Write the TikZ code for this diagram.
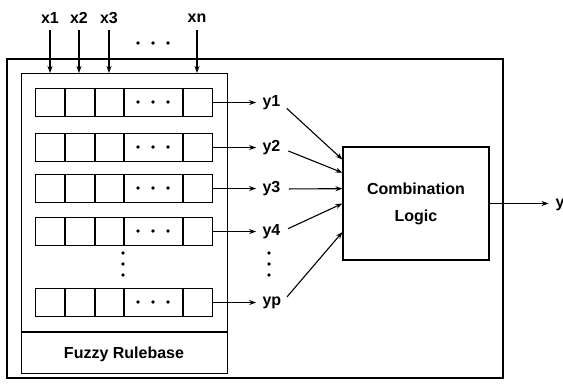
\documentclass[tikz,border=0pt]{standalone}
\usepackage{fontspec}
\setmainfont{Liberation Sans}
\usetikzlibrary{arrows.meta,calc}
\begin{document}
\begin{tikzpicture}[x=1pt,y=-1pt,line width=1.1pt,
  lbl/.style={font=\fontsize{16}{27}\selectfont\bfseries,inner sep=0pt},
  arr/.style={-{Stealth[length=7pt,width=5pt]}},
  rowbox/.style={draw,rectangle,minimum width=177pt,minimum height=28pt,inner sep=0pt,anchor=north west},
  dotmark/.style={fill,circle,inner sep=0pt,minimum size=3.8pt}]
\useasboundingbox (0,0) rectangle (563,388);

% outer frame and rulebase frame
\draw (7,59) rectangle (503,378);
\node[draw,rectangle,inner sep=0pt,minimum width=206pt,minimum height=300pt,anchor=north west] (rb) at (21,73) {};
\draw (rb.west |- 0,332) -- (rb.east |- 0,332);
\node[lbl] (rbl) at (124,354) {Fuzzy Rulebase};

% inputs
\foreach \n/\x/\t in {x1/50/x1, x2/79/x2, x3/109/x3, xn/197/xn}{
  \node[lbl] (\n) at (\x,18) {\t};
  \coordinate (\n top) at (\x,30);
  \coordinate (\n in) at (\x,73);
  \draw[arr] (\n top) -- (\n in);
}
\foreach \x in {138,153,168} \node[dotmark] at (\x,43) {};

% rule rows
\foreach \r/\y in {1/88, 2/133, 3/174, 4/217, p/288}{
  \node[rowbox] (r\r) at (35,\y) {};
  \foreach \x in {65,95,124,183}
    \draw (\x,\y) -- (\x,\y+28);
  \foreach \x in {138,153,168} \node[dotmark] at (\x,\y+14) {};
  \node[lbl,anchor=west] (y\r) at (262,\y+15) {y\r};
  \coordinate (t\r) at ($(r\r.east)+(43,0)$);
  \draw[arr] (r\r.east) -- (t\r);
}
\foreach \y in {253,264,275}{
  \node[dotmark] at (123,\y) {};
  \node[dotmark] at (269,\y) {};
}

% combination logic
\node[draw,rectangle,inner sep=0pt,minimum width=146pt,minimum height=113pt,lbl,align=center] (cl) at (416,203.5) {Combination\\Logic};
\coordinate (c1) at ($(cl.north west)!0.115!(cl.south west)$);
\coordinate (c2) at ($(cl.north west)!0.23!(cl.south west)$);
\coordinate (c3) at ($(cl.north west)!0.37!(cl.south west)$);
\coordinate (c4) at ($(cl.north west)!0.5!(cl.south west)$);
\coordinate (cp) at ($(cl.north west)!0.75!(cl.south west)$);
\foreach \r in {1,2,3,4,p}
  \draw[arr,shorten <=8pt] (y\r.east) -- (c\r);

\node[lbl,anchor=west] (yout) at (555,205) {y};
\coordinate (tout) at ($(cl.east)+(59,0)$);
\draw[arr] (cl.east) -- (tout);
\end{tikzpicture}
\end{document}
